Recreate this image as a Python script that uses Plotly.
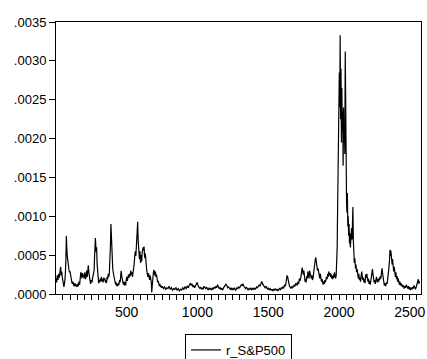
import plotly.graph_objects as go

obs = [
    1, 6, 10, 15, 20, 25, 30, 34, 38, 42, 45, 50, 54, 57, 62, 67, 71, 74, 77, 81,
    85, 90, 95, 100, 104, 108, 113, 117, 121, 126, 130, 135, 140, 144, 149, 153, 158, 163, 168, 172,
    176, 180, 184, 188, 192, 196, 200, 205, 210, 214, 218, 222, 226, 229, 233, 237, 241, 245, 250, 255,
    259, 263, 266, 270, 273, 276, 279, 282, 285, 288, 291, 294, 298, 302, 306, 310, 314, 318, 322, 326,
    330, 334, 338, 342, 346, 350, 354, 358, 362, 366, 370, 374, 378, 382, 386, 389, 392, 395, 398, 402,
    406, 410, 414, 418, 422, 426, 430, 434, 438, 442, 446, 450, 454, 458, 461, 465, 469, 473, 477, 481,
    485, 489, 493, 497, 501, 505, 509, 513, 517, 521, 525, 529, 533, 537, 541, 545, 549, 553, 557, 561,
    565, 569, 572, 575, 578, 581, 584, 587, 590, 594, 598, 602, 606, 610, 614, 617, 620, 623, 626, 629,
    632, 635, 638, 642, 646, 650, 654, 658, 662, 666, 670, 674, 677, 680, 684, 688, 692, 695, 699, 703,
    707, 711, 715, 719, 723, 727, 731, 735, 739, 743,
    745, 752, 760, 768, 776, 784, 792, 800, 808, 816, 824, 832, 840, 848, 856, 864, 872, 880, 888, 896,
    904, 912, 920, 928, 936, 944, 950, 956, 962, 968, 974, 980, 986, 992, 998, 1004, 1010, 1016, 1022, 1028,
    1034, 1040, 1046, 1052, 1058, 1064, 1070, 1076, 1082, 1088, 1094, 1100, 1106, 1112, 1118, 1124, 1130, 1136, 1142, 1148,
    1154, 1160, 1166, 1172, 1178, 1184, 1190, 1196, 1202, 1208, 1214, 1220, 1226, 1232, 1238, 1244, 1250, 1256, 1262, 1268,
    1274, 1280, 1286, 1292, 1298, 1304, 1310, 1316, 1322, 1328, 1334, 1340, 1346, 1352, 1358, 1364, 1370, 1376, 1382, 1388,
    1394, 1400, 1406, 1412, 1418, 1424, 1430, 1436, 1442, 1448, 1454, 1460, 1466, 1472, 1478, 1484, 1490, 1496, 1502, 1508,
    1514, 1520, 1526, 1532, 1538, 1544, 1550, 1556, 1562, 1568, 1574, 1580, 1586, 1592, 1598, 1604, 1610, 1616, 1622,
    1628, 1633, 1637, 1641, 1645, 1650, 1655, 1660, 1665, 1670, 1675, 1680, 1685, 1690, 1695, 1700, 1705, 1710, 1715, 1720,
    1725, 1730, 1735, 1740, 1744, 1748, 1752, 1756, 1760, 1764, 1768, 1772, 1776, 1780, 1784, 1788, 1792, 1796, 1800, 1804,
    1808, 1812, 1816, 1820, 1824, 1828, 1832, 1836, 1840, 1844, 1848, 1852, 1856, 1860, 1864, 1868, 1872, 1876, 1880, 1884,
    1888, 1892, 1896, 1900, 1904, 1908, 1912, 1916, 1920, 1924, 1928, 1932, 1936, 1940, 1944, 1948, 1952, 1956, 1960, 1964,
    1968, 1972, 1976, 1980, 1984, 1987, 1990, 1993, 1996, 1999, 2002, 2005, 2008, 2011, 2014, 2017, 2020, 2023, 2026, 2029,
    2032, 2035, 2038, 2041, 2044, 2047, 2050, 2053, 2056, 2059, 2062, 2065, 2068, 2071, 2074, 2077, 2080, 2083, 2086, 2089,
    2092, 2095, 2098, 2101, 2104, 2108, 2112, 2116, 2120, 2124, 2128, 2132, 2136, 2140, 2144, 2148, 2152, 2156, 2160, 2164,
    2168, 2172, 2176, 2180, 2184, 2188, 2192, 2196, 2200, 2204, 2208, 2212, 2216, 2220, 2224, 2228, 2232, 2236, 2240, 2244,
    2248, 2252, 2256, 2260, 2264, 2268, 2272, 2276, 2280, 2284, 2288, 2292, 2296, 2300, 2304, 2308, 2312, 2316, 2320, 2324,
    2328, 2332, 2336, 2340, 2344, 2348, 2352, 2356, 2360, 2363, 2366, 2369, 2372, 2375, 2378, 2382, 2386, 2390, 2394, 2398,
    2402, 2406, 2410, 2414, 2418, 2422, 2426, 2430, 2434, 2438, 2442, 2446, 2450, 2455, 2460, 2465, 2470, 2475, 2480, 2485,
    2490, 2495, 2500, 2505, 2510, 2515, 2520, 2525, 2530, 2535, 2540, 2545, 2550, 2555, 2560, 2564, 2568,
]

r_sp500 = [
    2.0e-4, 1.5e-4, 2.4e-4, 1.8e-4, 2.6e-4, 2.1e-4, 3.0e-4, 3.5e-4, 2.4e-4, 2.9e-4, 2.2e-4, 1.6e-4, 1.2e-4, 0.9e-4, 1.5e-4, 2.5e-4, 4.5e-4, 7.5e-4, 6.0e-4, 4.8e-4,
    3.9e-4, 3.6e-4, 2.8e-4, 2.9e-4, 2.2e-4, 1.8e-4, 1.5e-4, 1.3e-4, 1.6e-4, 1.1e-4, 1.0e-4, 1.4e-4, 1.0e-4, 1.2e-4, 0.9e-4, 1.3e-4, 1.0e-4, 1.6e-4, 1.2e-4, 2.0e-4,
    2.8e-4, 2.5e-4, 2.0e-4, 2.7e-4, 2.2e-4, 2.5e-4, 2.0e-4, 2.8e-4, 1.9e-4, 2.4e-4, 3.0e-4, 2.2e-4, 2.9e-4, 3.7e-4, 2.8e-4, 2.2e-4, 1.6e-4, 1.3e-4, 1.8e-4, 1.5e-4,
    2.0e-4, 2.6e-4, 2.4e-4, 3.0e-4, 4.6e-4, 5.8e-4, 7.2e-4, 6.3e-4, 5.4e-4, 6.0e-4, 4.0e-4, 2.8e-4, 1.9e-4, 1.4e-4, 1.8e-4, 1.5e-4, 2.0e-4, 1.7e-4, 2.2e-4, 1.6e-4,
    1.9e-4, 1.5e-4, 2.1e-4, 1.8e-4, 2.0e-4, 1.5e-4, 1.8e-4, 1.4e-4, 2.2e-4, 1.9e-4, 2.6e-4, 2.2e-4, 2.8e-4, 4.0e-4, 6.5e-4, 9.0e-4, 6.8e-4, 5.0e-4, 4.0e-4, 3.2e-4,
    2.7e-4, 2.2e-4, 1.7e-4, 1.4e-4, 1.2e-4, 1.5e-4, 1.0e-4, 1.3e-4, 1.0e-4, 1.4e-4, 1.2e-4, 1.8e-4, 1.5e-4, 2.3e-4, 3.0e-4, 2.3e-4, 1.7e-4, 1.4e-4, 1.2e-4, 1.6e-4,
    1.1e-4, 1.5e-4, 1.1e-4, 1.8e-4, 2.2e-4, 1.7e-4, 2.0e-4, 2.5e-4, 2.1e-4, 2.6e-4, 2.3e-4, 3.0e-4, 2.5e-4, 2.8e-4, 2.2e-4, 2.6e-4, 3.3e-4, 3.8e-4, 4.8e-4, 5.5e-4,
    4.9e-4, 6.0e-4, 7.0e-4, 8.5e-4, 9.3e-4, 7.0e-4, 6.0e-4, 5.2e-4, 4.5e-4, 5.5e-4, 4.0e-4, 5.0e-4, 4.2e-4, 5.4e-4, 5.8e-4, 6.0e-4, 5.6e-4, 6.1e-4, 5.0e-4, 4.6e-4,
    5.2e-4, 4.0e-4, 3.5e-4, 3.0e-4, 2.6e-4, 2.2e-4, 2.7e-4, 2.2e-4, 1.8e-4, 2.4e-4, 1.9e-4, 1.5e-4, 0.2e-4, 1.4e-4, 2.0e-4, 2.6e-4, 3.1e-4, 2.8e-4, 2.4e-4, 2.9e-4,
    2.2e-4, 2.5e-4, 1.9e-4, 1.5e-4, 1.7e-4, 1.2e-4, 1.0e-4, 1.3e-4, 0.9e-4, 1.1e-4,
    0.8e-4, 1.0e-4, 0.7e-4, 0.9e-4, 0.6e-4, 0.8e-4, 0.7e-4, 1.0e-4, 0.6e-4, 0.8e-4, 0.5e-4, 0.7e-4, 0.6e-4, 0.8e-4, 0.5e-4, 0.7e-4, 0.4e-4, 0.6e-4, 0.5e-4, 0.8e-4,
    0.6e-4, 0.9e-4, 0.7e-4, 1.0e-4, 0.8e-4, 1.2e-4, 1.4e-4, 1.1e-4, 1.3e-4, 0.9e-4, 1.1e-4, 0.8e-4, 1.0e-4, 1.3e-4, 1.5e-4, 1.1e-4, 0.9e-4, 0.7e-4, 0.9e-4, 0.6e-4,
    0.8e-4, 0.6e-4, 1.0e-4, 0.8e-4, 0.7e-4, 0.9e-4, 0.6e-4, 0.5e-4, 0.8e-4, 0.6e-4, 0.7e-4, 0.5e-4, 0.8e-4, 0.6e-4, 0.9e-4, 0.7e-4, 1.0e-4, 0.8e-4, 1.2e-4, 0.9e-4,
    0.7e-4, 0.8e-4, 0.6e-4, 0.7e-4, 0.5e-4, 0.8e-4, 0.9e-4, 1.1e-4, 1.3e-4, 1.0e-4, 0.8e-4, 0.9e-4, 0.7e-4, 0.6e-4, 0.8e-4, 0.5e-4, 0.7e-4, 0.6e-4, 0.8e-4, 0.5e-4,
    0.6e-4, 0.8e-4, 0.7e-4, 0.9e-4, 0.8e-4, 1.0e-4, 1.2e-4, 1.1e-4, 1.3e-4, 1.0e-4, 0.8e-4, 0.7e-4, 0.9e-4, 0.6e-4, 0.5e-4, 0.7e-4, 0.6e-4, 0.8e-4, 0.5e-4, 0.7e-4,
    0.6e-4, 0.8e-4, 0.6e-4, 0.7e-4, 0.9e-4, 0.8e-4, 1.0e-4, 1.2e-4, 1.0e-4, 1.4e-4, 1.6e-4, 1.3e-4, 1.1e-4, 0.9e-4, 0.8e-4, 1.0e-4, 0.7e-4, 0.6e-4, 0.8e-4, 0.5e-4,
    0.7e-4, 0.5e-4, 0.6e-4, 0.4e-4, 0.6e-4, 0.5e-4, 0.7e-4, 0.5e-4, 0.6e-4, 0.4e-4, 0.6e-4, 0.7e-4, 0.5e-4, 0.8e-4, 0.7e-4, 0.9e-4, 0.8e-4, 1.2e-4, 1.0e-4,
    1.6e-4, 2.4e-4, 2.2e-4, 1.6e-4, 1.2e-4, 1.0e-4, 0.9e-4, 0.7e-4, 0.9e-4, 0.8e-4, 1.0e-4, 0.9e-4, 1.2e-4, 1.0e-4, 1.4e-4, 1.3e-4, 1.1e-4, 1.6e-4, 1.3e-4, 2.0e-4,
    1.7e-4, 2.1e-4, 2.8e-4, 3.4e-4, 2.9e-4, 2.5e-4, 3.0e-4, 2.2e-4, 1.6e-4, 1.9e-4, 1.5e-4, 2.3e-4, 2.0e-4, 2.9e-4, 2.5e-4, 2.0e-4, 3.0e-4, 2.6e-4, 2.2e-4, 2.0e-4,
    2.4e-4, 1.8e-4, 2.0e-4, 2.6e-4, 3.4e-4, 3.8e-4, 4.4e-4, 4.7e-4, 4.2e-4, 3.6e-4, 3.0e-4, 3.3e-4, 2.7e-4, 2.4e-4, 2.0e-4, 2.6e-4, 1.9e-4, 1.6e-4, 1.9e-4, 1.4e-4,
    1.2e-4, 1.6e-4, 1.3e-4, 1.8e-4, 1.5e-4, 1.9e-4, 2.2e-4, 1.9e-4, 2.6e-4, 2.2e-4, 2.9e-4, 2.4e-4, 2.7e-4, 2.2e-4, 2.6e-4, 2.0e-4, 2.3e-4, 1.9e-4, 2.5e-4, 2.1e-4,
    2.8e-4, 2.3e-4, 2.0e-4, 2.4e-4, 4.5e-4, 6.0e-4, 11.0e-4, 17.0e-4, 23.5e-4, 20.0e-4, 28.5e-4, 24.0e-4, 33.3e-4, 22.5e-4, 29.0e-4, 19.5e-4, 26.5e-4, 21.0e-4, 23.5e-4, 16.5e-4,
    24.0e-4, 19.5e-4, 22.0e-4, 18.0e-4, 31.2e-4, 21.0e-4, 14.5e-4, 12.0e-4, 10.5e-4, 13.0e-4, 8.7e-4, 10.0e-4, 7.5e-4, 9.0e-4, 6.5e-4, 7.8e-4, 6.0e-4, 8.0e-4, 6.6e-4, 8.5e-4,
    7.0e-4, 9.5e-4, 11.2e-4, 7.0e-4, 5.5e-4, 4.0e-4, 4.6e-4, 3.3e-4, 3.8e-4, 2.8e-4, 3.2e-4, 2.4e-4, 2.0e-4, 2.6e-4, 1.8e-4, 2.1e-4, 1.6e-4, 2.2e-4, 2.9e-4, 2.3e-4,
    1.8e-4, 2.1e-4, 1.5e-4, 1.9e-4, 1.4e-4, 2.5e-4, 2.1e-4, 2.6e-4, 2.0e-4, 1.6e-4, 2.0e-4, 1.3e-4, 1.7e-4, 1.2e-4, 1.6e-4, 2.2e-4, 2.8e-4, 3.2e-4, 2.5e-4, 1.9e-4,
    1.5e-4, 1.8e-4, 1.3e-4, 1.7e-4, 2.2e-4, 1.8e-4, 1.5e-4, 1.9e-4, 1.6e-4, 2.1e-4, 1.8e-4, 2.3e-4, 2.0e-4, 2.8e-4, 3.3e-4, 2.6e-4, 1.9e-4, 1.4e-4, 1.1e-4, 1.4e-4,
    1.0e-4, 1.2e-4, 1.5e-4, 1.3e-4, 1.8e-4, 2.3e-4, 3.3e-4, 4.2e-4, 5.7e-4, 4.9e-4, 5.6e-4, 4.2e-4, 5.0e-4, 3.8e-4, 4.5e-4, 3.3e-4, 2.9e-4, 3.5e-4, 2.6e-4, 2.2e-4,
    2.8e-4, 1.9e-4, 2.3e-4, 1.6e-4, 2.0e-4, 1.5e-4, 1.2e-4, 1.6e-4, 1.1e-4, 1.4e-4, 1.0e-4, 1.2e-4, 0.9e-4, 1.1e-4, 0.7e-4, 1.0e-4, 0.8e-4, 1.2e-4, 0.9e-4, 0.7e-4,
    1.0e-4, 0.6e-4, 0.9e-4, 0.5e-4, 0.8e-4, 0.6e-4, 0.9e-4, 0.7e-4, 1.1e-4, 0.8e-4, 0.6e-4, 0.9e-4, 1.2e-4, 1.5e-4, 1.9e-4, 1.3e-4, 1.7e-4,
]

assert len(obs) == len(r_sp500), (len(obs), len(r_sp500))

y_tickvals = [0.0, 0.0005, 0.0010, 0.0015, 0.0020, 0.0025, 0.0030, 0.0035]
y_ticktext = [".0000", ".0005", ".0010", ".0015", ".0020", ".0025", ".0030", ".0035"]
x_tickvals = [500, 1000, 1500, 2000, 2500]
x_ticktext = ["500", "1000", "1500", "2000", "2500"]

FONT = "Arial, 'Liberation Sans', Helvetica, sans-serif"

fig = go.Figure()
fig.add_trace(go.Scatter(
    x=obs, y=r_sp500, mode="lines", name="r_S&P500",
    line=dict(color="black", width=1.2),
))

fig.update_layout(
    width=427, height=359,
    margin=dict(l=56, r=6, t=22, b=65, autoexpand=False),
    paper_bgcolor="white", plot_bgcolor="white",
    font=dict(family=FONT, size=14, color="black"),
    showlegend=True,
    legend=dict(
        orientation="h", x=0.5, xanchor="center", y=-0.147, yanchor="top",
        bordercolor="black", borderwidth=1, bgcolor="white",
        font=dict(family=FONT, size=13, color="black"),
    ),
)

fig.update_xaxes(
    range=[1, 2579], showgrid=False, zeroline=False,
    showline=True, mirror=True, linecolor="black", linewidth=1,
    tickmode="array", tickvals=x_tickvals, ticktext=x_ticktext,
    ticks="outside", ticklen=5, tickcolor="black", tickwidth=1,
    minor=dict(tick0=0, dtick=50, ticks="outside", ticklen=5, tickcolor="black", tickwidth=1, showgrid=False),
    tickfont=dict(family=FONT, size=14, color="black"),
)
fig.update_yaxes(
    range=[0, 0.0035], showgrid=False, zeroline=False,
    showline=True, mirror=True, linecolor="black", linewidth=1,
    tickmode="array", tickvals=y_tickvals, ticktext=y_ticktext,
    ticks="outside", ticklen=6, tickcolor="black", tickwidth=1,
    tickfont=dict(family=FONT, size=13, color="black"),
)

fig.write_html("out.html")
